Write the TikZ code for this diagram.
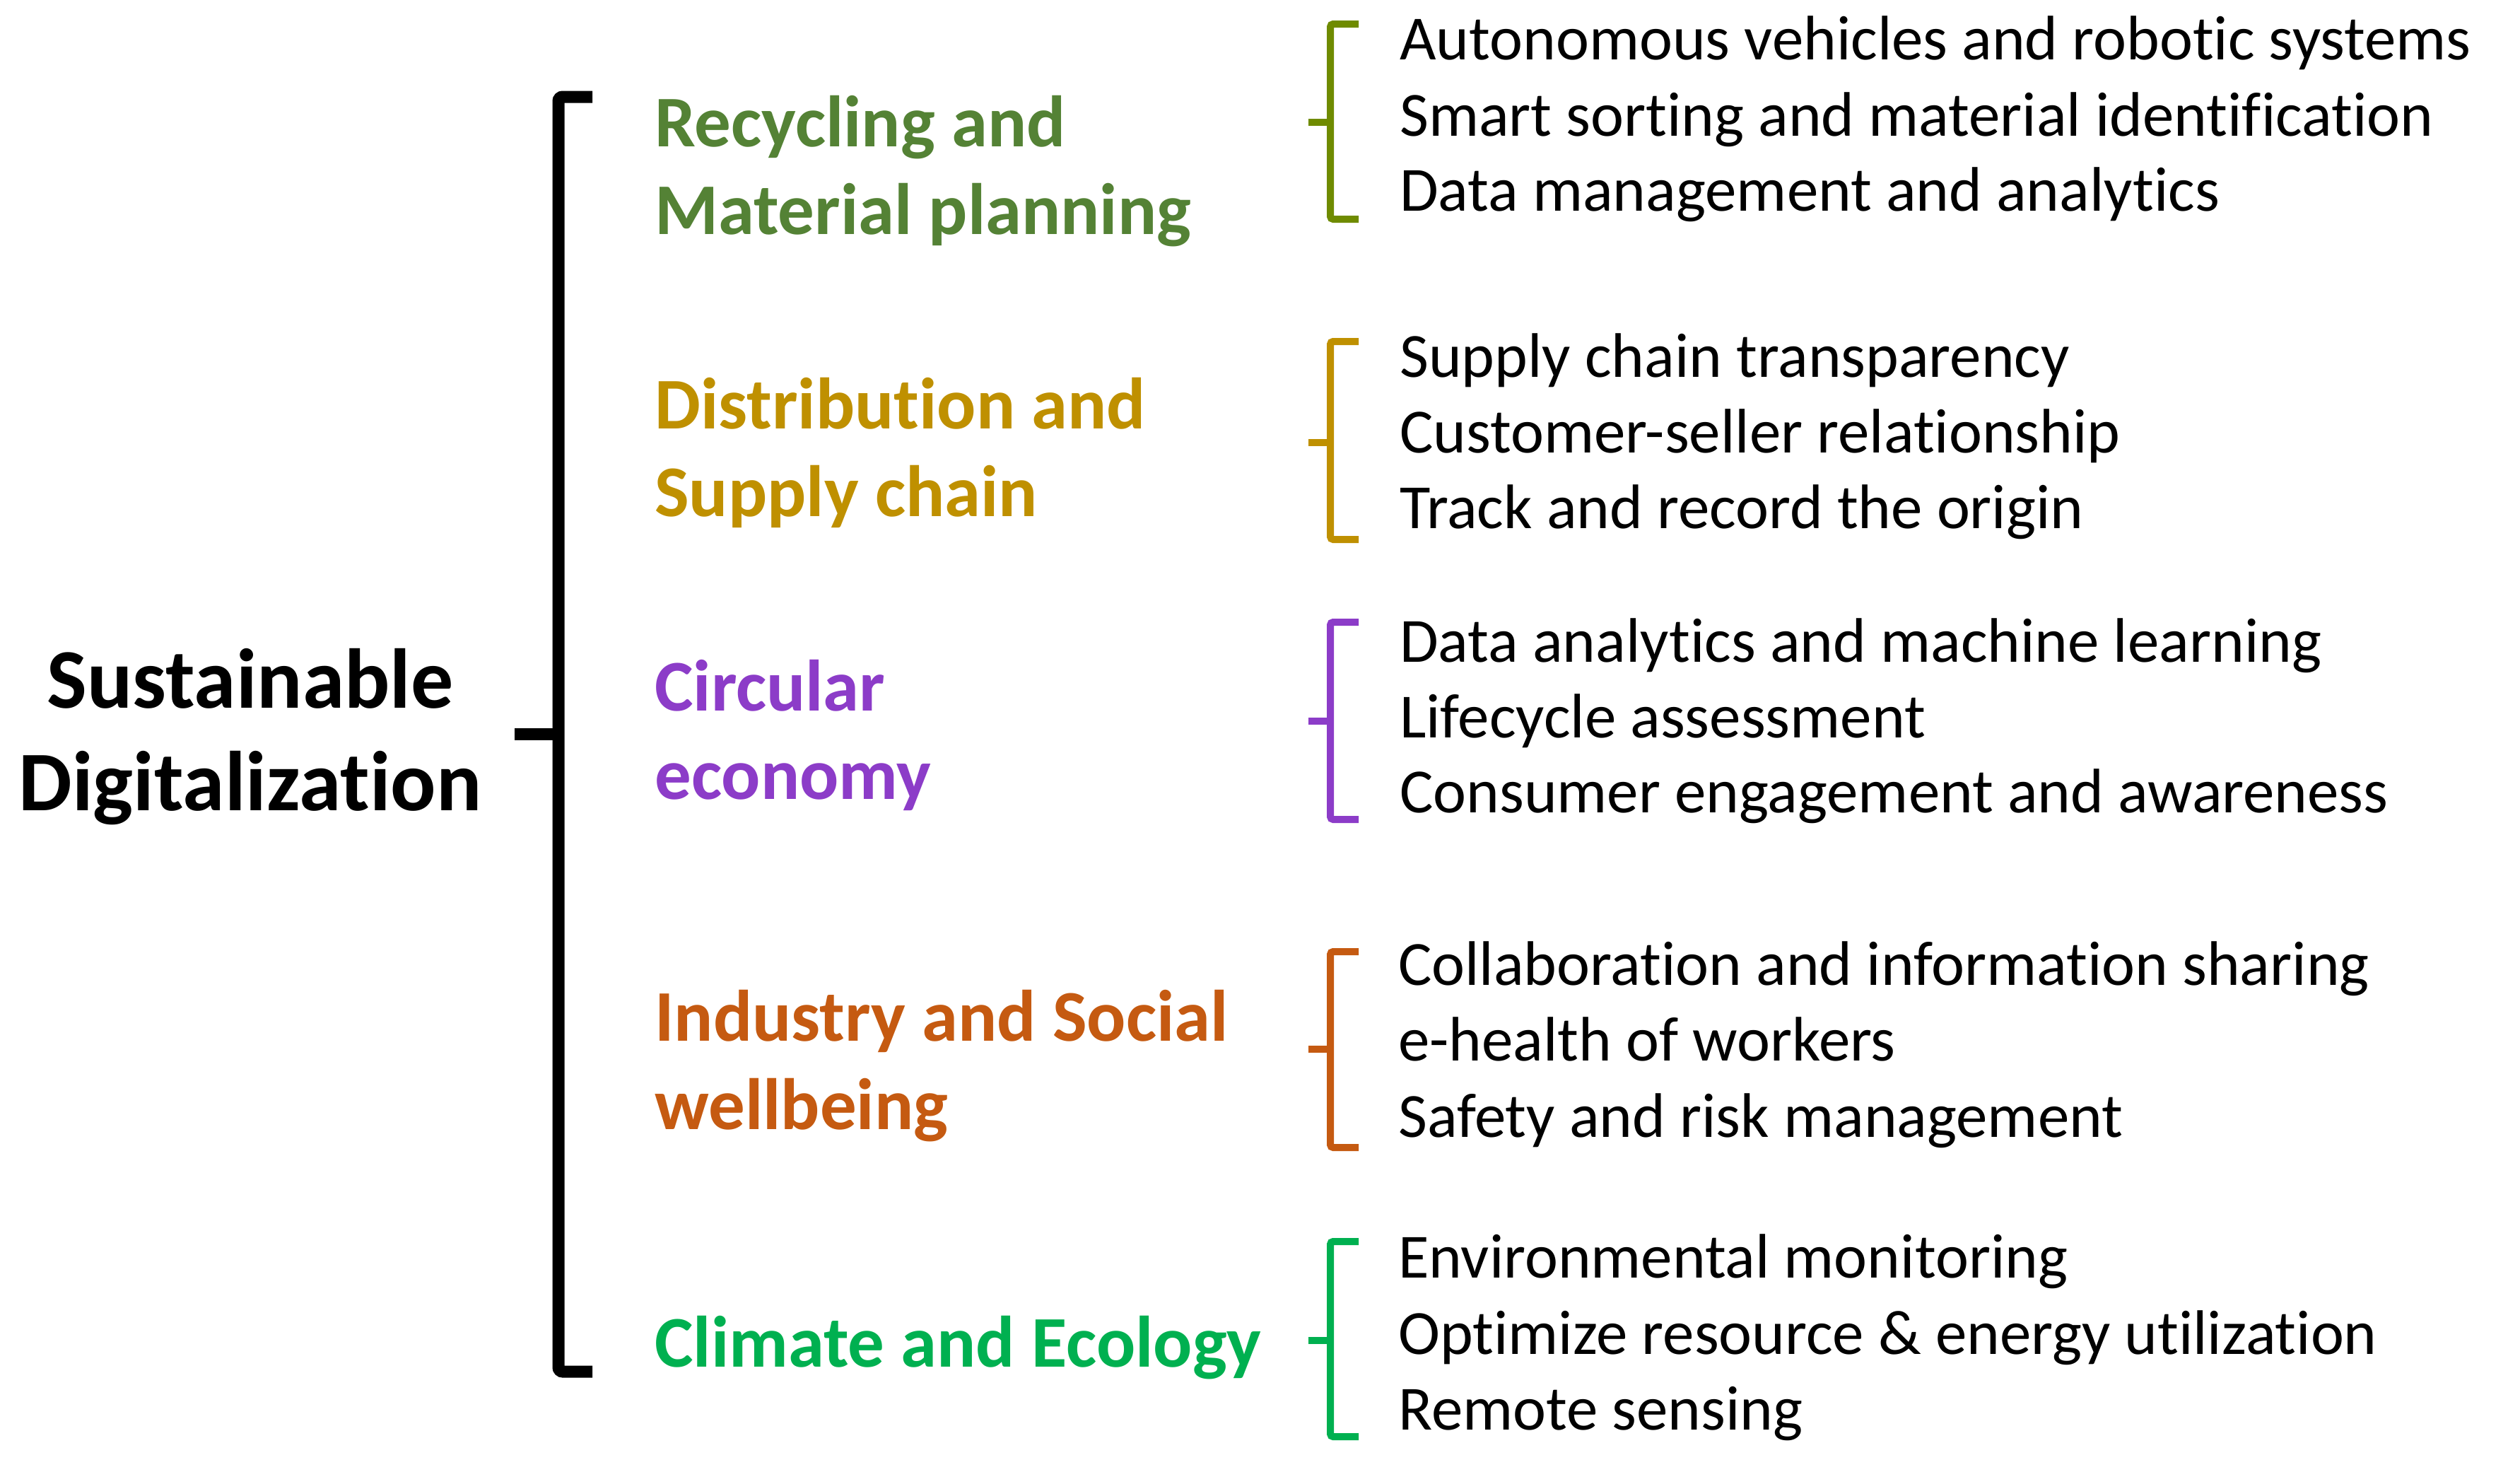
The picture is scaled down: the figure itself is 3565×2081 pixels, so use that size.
\documentclass[tikz,border=0pt]{standalone}
\usepackage{fontspec}
\setmainfont{Carlito}[Ligatures=NoCommon]
\definecolor{cOne}{HTML}{548235}
\definecolor{cOneBr}{HTML}{6F8B00}
\definecolor{cTwo}{HTML}{BF9000}
\definecolor{cThree}{HTML}{8C3CC8}
\definecolor{cFour}{HTML}{C55A11}
\definecolor{cFive}{HTML}{00B050}
\begin{document}
\begin{tikzpicture}[x=1pt,y=-1pt,
  mainlbl/.style={anchor=base,inner sep=0pt,font=\fontsize{120}{145}\selectfont\bfseries},
  catlbl/.style={anchor=base west,inner sep=0pt,font=\fontsize{103}{124}\selectfont\bfseries},
  itemlbl/.style={anchor=base west,inner sep=0pt,font=\fontsize{89}{107}\selectfont},
  mainbr/.style={line width=17pt,rounded corners=6pt},
  smallbr/.style={line width=10pt,rounded corners=4pt}]
\useasboundingbox (0,0) rectangle (3565,2081);
% main label
\node[mainlbl] (m1) at (354,1001) {Sustainable};
\node[mainlbl] (m2) at (354,1146) {Digitalization};
% main bracket
\coordinate (mt) at (838,137);
\coordinate (mb) at (838,1940);
\coordinate (mk) at (728,1038);
\draw[mainbr] (mt) -- (790,137) -- (790,1940) -- (mb);
\draw[line width=17pt] (mk) -- (790,1038);
% categories
\node[catlbl,text=cOne] (c1a) at (926,207) {Recycling and};
\node[catlbl,text=cOne] (c1b) at (926,331) {Material planning};
\node[catlbl,text=cTwo] (c2a) at (926,606) {Distribution and};
\node[catlbl,text=cTwo] (c2b) at (926,730) {Supply chain};
\node[catlbl,text=cThree] (c3a) at (926,1005) {Circular};
\node[catlbl,text=cThree] (c3b) at (926,1130) {economy};
\node[catlbl,text=cFour] (c4a) at (926,1472) {Industry and Social};
\node[catlbl,text=cFour] (c4b) at (926,1597) {wellbeing};
\node[catlbl,text=cFive] (c5a) at (926,1933) {Climate and Ecology};
% small brackets
\foreach \t/\b/\k/\col in {34/310/173/cOneBr, 483/763/626/cTwo, 880/1159/1020/cThree, 1346/1623/1484/cFour, 1756/2032/1896/cFive}{
  \draw[smallbr,draw=\col] (1922,\t) -- (1882,\t) -- (1882,\b) -- (1922,\b);
  \draw[line width=10pt,draw=\col] (1851,\k) -- (1882,\k);
}
% items
\node[itemlbl] (i11) at (1980,84) {Autonomous vehicles and robotic systems};
\node[itemlbl] (i12) at (1980,192) {Smart sorting and material identification};
\node[itemlbl] (i13) at (1980,298) {Data management and analytics};
\node[itemlbl] (i21) at (1980,533) {Supply chain transparency};
\node[itemlbl] (i22) at (1980,640) {Customer-seller relationship};
\node[itemlbl] (i23) at (1980,747) {Track and record the origin};
\node[itemlbl] (i31) at (1980,936) {Data analytics and machine learning};
\node[itemlbl] (i32) at (1980,1043) {Lifecycle assessment};
\node[itemlbl] (i33) at (1980,1149) {Consumer engagement and awareness};
\node[itemlbl] (i41) at (1978,1393) {Collaboration and information sharing};
\node[itemlbl] (i42) at (1978,1500) {e-health of workers};
\node[itemlbl] (i43) at (1978,1608) {Safety and risk management};
\node[itemlbl] (i51) at (1978,1807) {Environmental monitoring};
\node[itemlbl] (i52) at (1978,1915) {Optimize resource \& energy utilization};
\node[itemlbl] (i53) at (1978,2022) {Remote sensing};
\end{tikzpicture}
\end{document}
